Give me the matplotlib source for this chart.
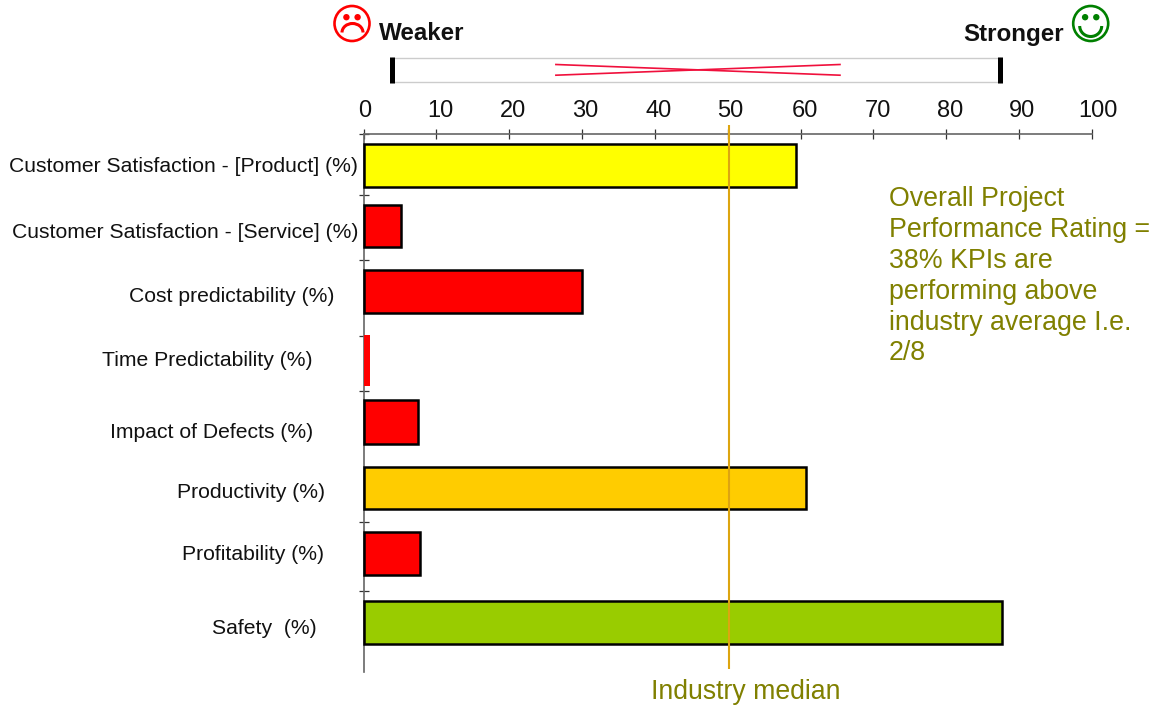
import matplotlib
matplotlib.use("Agg")
import matplotlib.pyplot as plt
from matplotlib.patches import Circle, Arc
from matplotlib.transforms import ScaledTranslation

plt.rcParams['font.family'] = ['Liberation Sans', 'DejaVu Sans']

# --- data ---
categories = ["Customer Satisfaction - [Product] (%)", "Customer Satisfaction - [Service] (%)",
              "Cost predictability (%)", "Time Predictability (%)", "Impact of Defects (%)",
              "Productivity (%)", "Profitability (%)", "Safety  (%)"]
values = [59.4, 5.1, 30.0, 0.9, 7.5, 60.8, 7.7, 87.6]
colors = ["#FFFF00", "#FF0000", "#FF0000", "#FF0000", "#FF0000", "#FFCC00", "#FF0000", "#99CC00"]
edges = ["black", "black", "black", "none", "black", "black", "black", "black"]
xticks = list(range(0, 101, 10))
median_value = 50.1
range_low, range_high = 3.85, 87.35
spread_low, spread_high = 26.4, 65.4

# --- layout (pixels of the 1156x707 canvas) ---
W, H = 1156, 707
bar_top = [144, 205, 270, 335, 400, 467, 532, 601]
bar_bot = [187, 247, 313, 386, 444, 509, 575, 644]
label_right = [358, 358, 334, 313, 313, 325, 324, 317]
label_y = [167, 233, 297, 361, 433, 492, 555, 629]
ytick_px = [134, 195, 260, 336, 391, 522, 591]
xlabel_shift = [1.5, 4, 3.5, 3.5, 4, 2, 4, 4, 3.5, 3, 6]
ax_l, ax_r, ax_t, ax_b = 363.6, 1092, 134, 672

fig = plt.figure(figsize=(W / 100, H / 100), dpi=100)
ax = fig.add_axes([ax_l / W, 1 - ax_b / H, (ax_r - ax_l) / W, (ax_b - ax_t) / H])
ax.set_xlim(0, 100)
ax.set_ylim(ax_b, ax_t)
ax.patch.set_alpha(0)

for i, v in enumerate(values):
    ax.barh((bar_top[i] + bar_bot[i]) / 2, v, height=bar_bot[i] - bar_top[i], color=colors[i],
            edgecolor=edges[i], linewidth=1.8, zorder=3, clip_on=False)

for s in ("right", "bottom"):
    ax.spines[s].set_visible(False)
for s in ("left", "top"):
    ax.spines[s].set_color("#666666")
    ax.spines[s].set_linewidth(1.2)
ax.xaxis.tick_top()
ax.set_xticks(xticks)
ax.tick_params(axis="x", direction="inout", length=6.5, width=0.9, color="#333333",
               labelsize=17, pad=5.3, labelcolor="#111111")
for lab, dx in zip(ax.get_xticklabels(), xlabel_shift):
    lab.set_transform(lab.get_transform() + ScaledTranslation(dx / 100, 0, fig.dpi_scale_trans))
ax.set_yticks(ytick_px)
ax.set_yticklabels([])
ax.tick_params(axis="y", direction="inout", length=7.2, width=0.9, color="#333333")

# overlay in pixel coordinates for annotations
ov = fig.add_axes([0, 0, 1, 1])
ov.set_xlim(0, W)
ov.set_ylim(H, 0)
ov.axis("off")
ov.patch.set_alpha(0)

def px(v):
    return ax_l + v * (ax_r - ax_l) / 100

for c, r, y in zip(categories, label_right, label_y):
    ov.text(r, y, c, ha="right", va="center", fontsize=15.25, color="#111111")

# median line
ov.plot([px(median_value)] * 2, [125, 669], color="#DDA510", lw=1.5, zorder=5, solid_capstyle="butt")
ov.text(746, 692, "Industry median", ha="center", va="center", fontsize=19.2, color="#808000")

ov.text(889, 186, "Overall Project\nPerformance Rating =\n38% KPIs are\nperforming above\nindustry average I.e.\n2/8",
        ha="left", va="top", fontsize=19.3, color="#808000", linespacing=1.245)

# range gauge
g_l, g_r = px(range_low), px(range_high)
ov.plot([g_l, g_r], [57.5, 57.5], color="#CCCCCC", lw=1)
ov.plot([g_l, g_r], [82, 82], color="#CCCCCC", lw=1)
ov.plot([g_l, g_l], [57, 82.5], color="black", lw=3.6, solid_capstyle="butt")
ov.plot([g_r, g_r], [57, 82.5], color="black", lw=3.6, solid_capstyle="butt")
s_l, s_r = px(spread_low), px(spread_high)
ov.plot([s_l, s_r], [64.5, 75.2], color="#F0103C", lw=1.2)
ov.plot([s_l, s_r], [75.2, 64.5], color="#F0103C", lw=1.2)

ov.text(379, 34, "Weaker", ha="left", va="center", fontsize=17.4, fontweight="bold", color="#111111")
ov.text(1064, 34, "Stronger", ha="right", va="center", fontsize=17.4, fontweight="bold", color="#111111")

def face(cx, cy, col, happy):
    ov.add_patch(Circle((cx, cy), 17.5, fill=False, ec=col, lw=1.9))
    for dx in (-5.6, 5.6):
        ov.add_patch(Circle((cx + dx, cy - 6.3), 3.2, fc=col, ec="none"))
    if happy:
        ov.add_patch(Arc((cx, cy + 2.5), 22, 21, theta1=0, theta2=180, ec=col, lw=2.2))
    else:
        ov.add_patch(Arc((cx + 0.5, cy + 9), 21, 18, theta1=180, theta2=360, ec=col, lw=2.2))

face(352, 23.5, "#FF0000", False)
face(1090.7, 23.5, "#008000", True)

fig.savefig("out.png", dpi=100)
